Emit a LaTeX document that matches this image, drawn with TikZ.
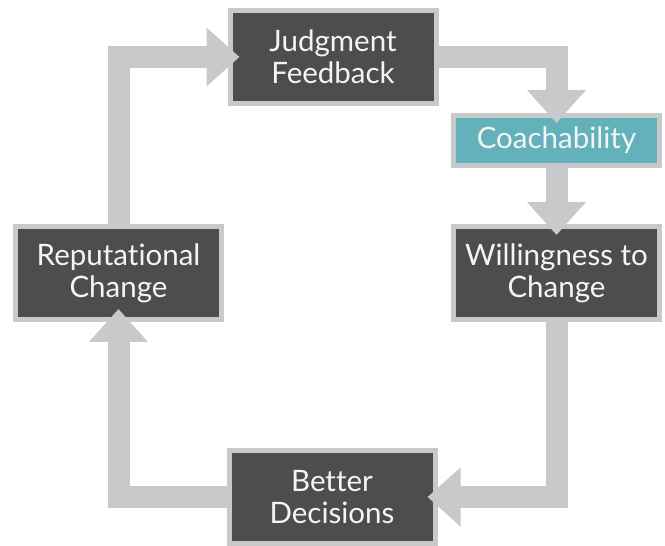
\documentclass[tikz,border=0pt]{standalone}
\usepackage{fontspec}
\setmainfont[Ligatures=NoCommon]{Lato}
\usetikzlibrary{arrows.meta}
\definecolor{boxdark}{HTML}{4D4D4F}
\definecolor{boxedge}{HTML}{C8C9CA}
\definecolor{teal}{HTML}{63B1BA}
\definecolor{txt}{HTML}{F4F4F4}
\begin{document}
\begin{tikzpicture}[x=1pt,y=1pt,
  bigbox/.style={draw=boxedge, fill=boxdark, line width=5pt, minimum width=206pt,
    minimum height=93pt, align=center, text=txt, font=\fontsize{29.5}{32}\selectfont, inner sep=0pt},
  tealbox/.style={bigbox, fill=teal, minimum height=50pt},
  flow/.style={draw=boxedge, line width=22pt, line cap=butt, line join=miter,
    -{Triangle[length=33pt,width=57pt]}}
]
\useasboundingbox (0,0) rectangle (665,546);
\node[bigbox] (J) at (333,489) {Judgment\\Feedback};
\node[tealbox] (C) at (556.5,405.5) {Coachability};
\node[bigbox] (W) at (556.5,273) {Willingness to\\Change};
\node[bigbox] (R) at (118.5,273) {Reputational\\Change};
\node[bigbox] (B) at (332,49) {Better\\Decisions};
\draw[flow] (R.north) |- ([xshift=12pt]J.west);
\draw[flow] (J.east) -| ([yshift=-10pt]C.north);
\draw[flow] (C.south) -- ([yshift=-11pt]W.north);
\draw[flow] (W.south) |- ([xshift=-10pt]B.east);
\draw[flow] (B.west) -| ([yshift=13pt]R.south);
\end{tikzpicture}
\end{document}
